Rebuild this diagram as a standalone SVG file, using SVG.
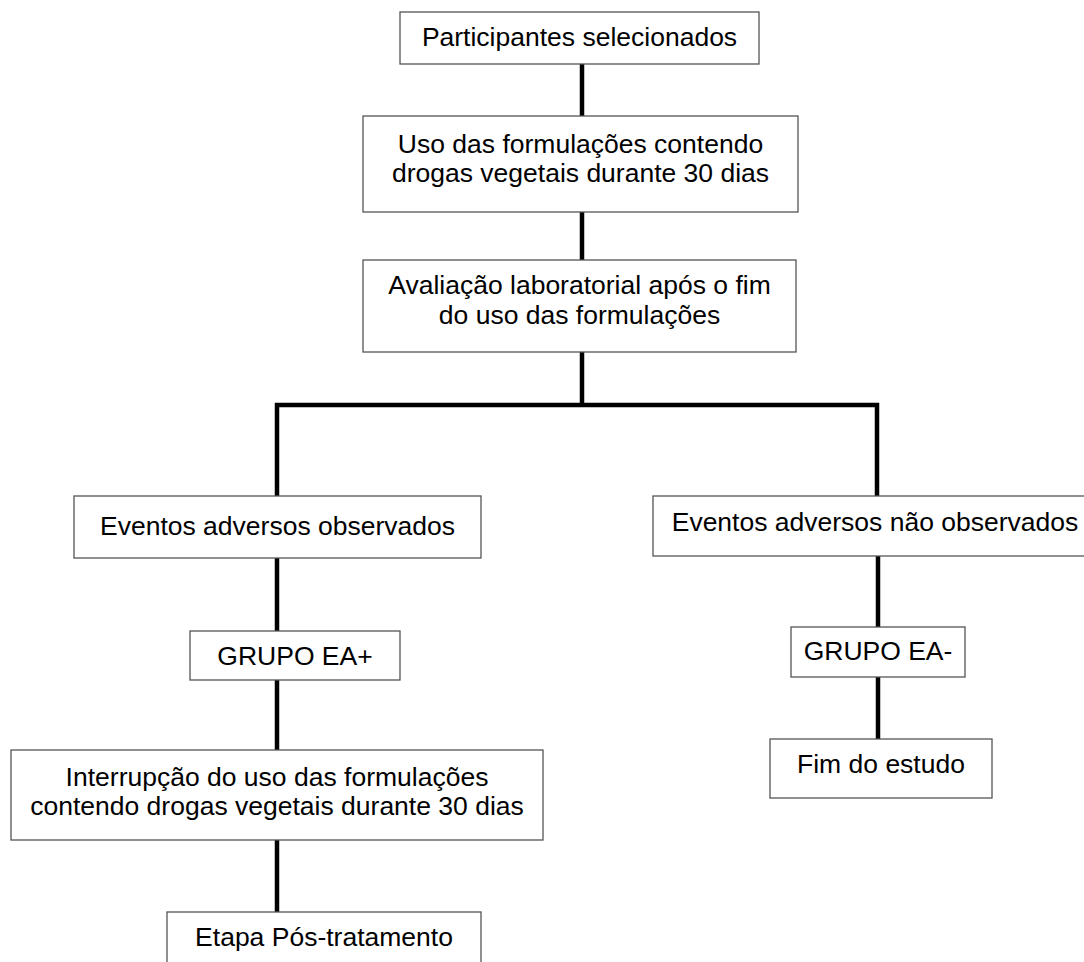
<svg xmlns="http://www.w3.org/2000/svg" width="1084" height="962" viewBox="0 0 1084 962">
<style>
.box{fill:#fff;stroke:#555;stroke-width:1.3}
.t{font-family:"Liberation Sans",Arial,sans-serif;font-size:26.5px;fill:#000;text-anchor:middle}
.c{fill:none;stroke:#000;stroke-width:4.5;stroke-linejoin:miter}
</style>
<rect width="1084" height="962" fill="#fff"/>
<g id="connectors">
<path class="c" d="M582,64 V116"/>
<path class="c" d="M582,212 V260"/>
<path class="c" d="M582,352 V405"/>
<path class="c" d="M277,496 V405 H877 V496"/>
<path class="c" d="M277,558 V631"/>
<path class="c" d="M277,680 V750"/>
<path class="c" d="M277,840 V912"/>
<path class="c" d="M878,556 V627"/>
<path class="c" d="M878,677 V739"/>
</g>
<g id="n1"><rect class="box" x="400" y="12" width="359" height="52"/><text class="t" x="579.5" y="46">Participantes selecionados</text></g>
<g id="n2"><rect class="box" x="363" y="116" width="435" height="96"/><text class="t" x="580.5" y="153">Uso das formulações contendo</text><text class="t" x="580.5" y="182">drogas vegetais durante 30 dias</text></g>
<g id="n3"><rect class="box" x="363" y="260" width="433" height="92"/><text class="t" x="579.5" y="294">Avaliação laboratorial após o fim</text><text class="t" x="579.5" y="324">do uso das formulações</text></g>
<g id="n4"><rect class="box" x="74" y="496" width="407" height="62"/><text class="t" x="277.5" y="535">Eventos adversos observados</text></g>
<g id="n5"><rect class="box" x="653" y="496" width="448" height="60"/><text class="t" x="875" y="531">Eventos adversos não observados</text></g>
<g id="n6"><rect class="box" x="190" y="631" width="210" height="49"/><text class="t" x="295" y="665">GRUPO EA+</text></g>
<g id="n7"><rect class="box" x="791" y="627" width="174" height="50"/><text class="t" x="878" y="660">GRUPO EA-</text></g>
<g id="n8"><rect class="box" x="770" y="739" width="222" height="59"/><text class="t" x="881" y="773">Fim do estudo</text></g>
<g id="n9"><rect class="box" x="11" y="750" width="532" height="90"/><text class="t" x="277" y="786">Interrupção do uso das formulações</text><text class="t" x="277" y="815">contendo drogas vegetais durante 30 dias</text></g>
<g id="n10"><rect class="box" x="167" y="912" width="314" height="70"/><text class="t" x="324" y="946">Etapa Pós-tratamento</text></g>
</svg>
